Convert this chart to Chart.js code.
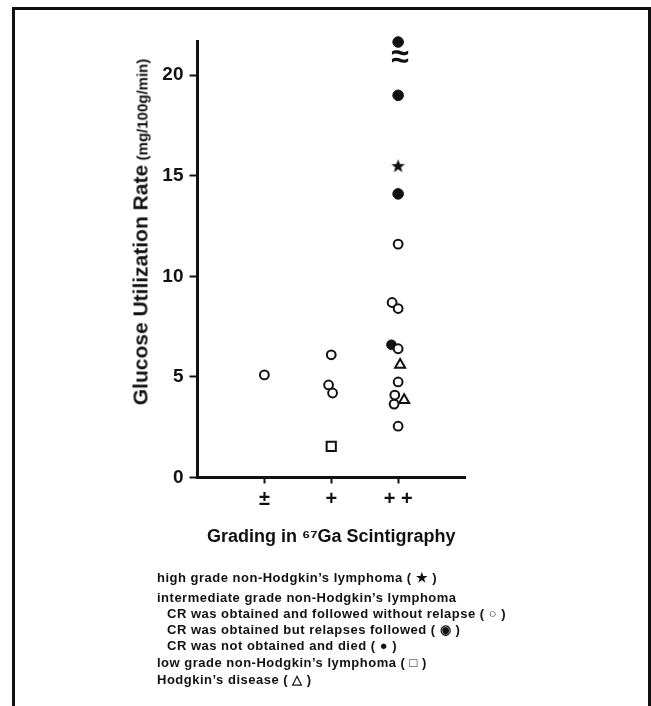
<!DOCTYPE html>
<html>
<head>
<meta charset="utf-8">
<title>Glucose utilization rate vs 67Ga grading</title>
<script src="https://cdn.jsdelivr.net/npm/chart.js@4.4.1/dist/chart.umd.min.js"></script>
<style>
  html, body { margin: 0; padding: 0; background: #fff; }
  #wrap { position: relative; width: 651px; height: 706px; overflow: hidden; }
  #frame { position: absolute; left: 12px; top: 7px; width: 639px; height: 720px;
           box-sizing: border-box; border: 3px solid #111; border-bottom: none; }
  #chart { position: absolute; left: 0; top: 0; }
  #ytitle { position: absolute; left: 140px; top: 232px; white-space: nowrap; color: #111;
            font-family: 'Liberation Sans', Arial, sans-serif; font-weight: bold; line-height: 1;
            transform: translate(-50%, -50%) rotate(-90deg); }
  #ytitle .big { font-size: 21px; }
  #ytitle .small { font-size: 15px; }
  .leg { position: absolute; white-space: nowrap; color: #111; line-height: 16px;
         font: bold 13px 'Liberation Sans', Arial, sans-serif; letter-spacing: 0.5px; }
</style>
</head>
<body>
<div id="wrap">
  <div id="frame"></div>
  <canvas id="chart" width="651" height="706"></canvas>
  <div id="ytitle"><span class="big">Glucose Utilization Rate</span> <span class="small">(mg/100g/min)</span></div>
  <div class="leg" style="left:157px;top:570px">high grade non-Hodgkin’s lymphoma ( ★ )</div>
  <div class="leg" style="left:157px;top:590px">intermediate grade non-Hodgkin’s lymphoma</div>
  <div class="leg" style="left:167px;top:606px">CR was obtained and followed without relapse ( ○ )</div>
  <div class="leg" style="left:167px;top:622px">CR was obtained but relapses followed ( ◉ )</div>
  <div class="leg" style="left:167px;top:638px">CR was not obtained and died ( ● )</div>
  <div class="leg" style="left:157px;top:655px">low grade non-Hodgkin’s lymphoma ( □ )</div>
  <div class="leg" style="left:157px;top:672px">Hodgkin’s disease ( △ )</div>
</div>
<script>
// categories on the x axis (1 = ±, 2 = +, 3 = ++)
const gradeLabels = ['±', '+', '+ +'];
const yTickValues = [0, 5, 10, 15, 20];

// each group: grade, small sideways shift the figure uses so markers don't overlap, rate (mg/100g/min)
const highGrade = [3];
const highShift = [0];
const highRate = [15.5];

const crNoRelapseGrade = [1, 2, 2, 2, 3, 3, 3, 3, 3, 3, 3, 3];
const crNoRelapseShift = [0, 0, -0.04, 0.02, 0, -0.09, 0, 0, 0, -0.05, -0.06, 0];
const crNoRelapseRate = [5.1, 6.1, 4.6, 4.2, 11.6, 8.7, 8.4, 6.4, 4.75, 4.1, 3.65, 2.55];

const crRelapseGrade = [3];
const crRelapseShift = [-0.1];
const crRelapseRate = [6.6];

const diedGrade = [3, 3, 3];
const diedShift = [0, 0, 0];
const diedRate = [21.65, 19.0, 14.1];

const lowGrade = [2];
const lowShift = [0];
const lowRate = [1.55];

const hodgkinGrade = [3, 3];
const hodgkinShift = [0.03, 0.09];
const hodgkinRate = [5.6, 3.85];

// axis break sign drawn between the two top points
const breakGrade = 3.03;
const breakAt = 20.85;

function pts(grade, shift, rate) {
  return rate.map((v, i) => ({ x: grade[i] + shift[i], y: v }));
}

// filled five point star, Chart.js 'star' is only an asterisk
function starImage(r) {
  const c = document.createElement('canvas');
  const s = Math.ceil(r * 2 + 2);
  c.width = s; c.height = s;
  const g = c.getContext('2d');
  g.beginPath();
  for (let i = 0; i < 10; i++) {
    const rr = i % 2 ? r * 0.42 : r;
    const a = -Math.PI / 2 + i * Math.PI / 5;
    g.lineTo(s / 2 + rr * Math.cos(a), s / 2 + 0.6 + rr * Math.sin(a));
  }
  g.closePath();
  g.fillStyle = '#111';
  g.fill();
  return c;
}

const breakMark = {
  id: 'breakMark',
  afterDatasetsDraw(chart) {
    const { ctx, scales: { x, y } } = chart;
    ctx.save();
    ctx.font = 'bold 32px "Liberation Sans", sans-serif';
    ctx.textAlign = 'center';
    ctx.textBaseline = 'middle';
    ctx.fillStyle = '#111';
    ctx.fillText('≈', x.getPixelForValue(breakGrade), y.getPixelForValue(breakAt));
    ctx.restore();
  }
};

const ink = '#111';
const narrow = "'Liberation Sans Narrow', 'Liberation Sans', Arial, sans-serif";
const sans = "'Liberation Sans', Arial, sans-serif";

new Chart(document.getElementById('chart').getContext('2d'), {
  type: 'scatter',
  data: {
    datasets: [
      { label: 'high grade', data: pts(highGrade, highShift, highRate),
        pointStyle: starImage(7.2), pointRadius: 6, clip: false },
      { label: 'CR without relapse', data: pts(crNoRelapseGrade, crNoRelapseShift, crNoRelapseRate),
        pointStyle: 'circle', pointRadius: 4.4, borderWidth: 2, borderColor: ink, backgroundColor: '#fff', clip: false },
      { label: 'CR with relapse', data: pts(crRelapseGrade, crRelapseShift, crRelapseRate),
        pointStyle: 'circle', pointRadius: 4.8, borderWidth: 1, borderColor: ink, backgroundColor: ink, clip: false },
      { label: 'no CR, died', data: pts(diedGrade, diedShift, diedRate),
        pointStyle: 'circle', pointRadius: 5.3, borderWidth: 1, borderColor: ink, backgroundColor: ink, clip: false },
      { label: 'low grade', data: pts(lowGrade, lowShift, lowRate),
        pointStyle: 'rect', pointRadius: 6.5, borderWidth: 2, borderColor: ink, backgroundColor: '#fff', clip: false },
      { label: "Hodgkin's disease", data: pts(hodgkinGrade, hodgkinShift, hodgkinRate),
        pointStyle: 'triangle', pointRadius: 5.8, borderWidth: 2, borderColor: ink, backgroundColor: '#fff', clip: false }
    ]
  },
  options: {
    responsive: false,
    animation: false,
    devicePixelRatio: 1,
    layout: { padding: { left: 0, top: 41, right: 186, bottom: 148.5 } },
    plugins: { legend: { display: false }, tooltip: { enabled: false } },
    scales: {
      x: {
        type: 'linear', min: 0, max: 4,
        afterBuildTicks: s => { s.ticks = gradeLabels.map((_, i) => ({ value: i + 1 })); },
        afterFit: s => { s.height = 80; },
        border: { display: true, color: ink, width: 3 },
        grid: { display: true, drawOnChartArea: false, drawTicks: true, tickLength: 6, tickWidth: 2, tickColor: ink },
        ticks: { color: ink, padding: 4, autoSkip: false, maxRotation: 0,
                 font: { family: sans, size: 20, weight: 'bold' },
                 callback: (v, i) => gradeLabels[i] },
        title: { display: true, text: 'Grading in ⁶⁷Ga Scintigraphy', color: ink,
                 font: { family: sans, size: 18, weight: 'bold' }, padding: { top: 0, bottom: 10 } }
      },
      y: {
        type: 'linear', min: 0, max: 21.7,
        afterBuildTicks: s => { s.ticks = yTickValues.map(v => ({ value: v })); },
        afterFit: s => { s.width = 197.5; },
        border: { display: true, color: ink, width: 3 },
        grid: { display: true, drawOnChartArea: false, drawTicks: true, tickLength: 8, tickWidth: 2, tickColor: ink },
        ticks: { color: ink, padding: 6, font: { family: narrow, size: 19, weight: 'bold' } }
      }
    }
  },
  plugins: [breakMark]
});
</script>
</body>
</html>
